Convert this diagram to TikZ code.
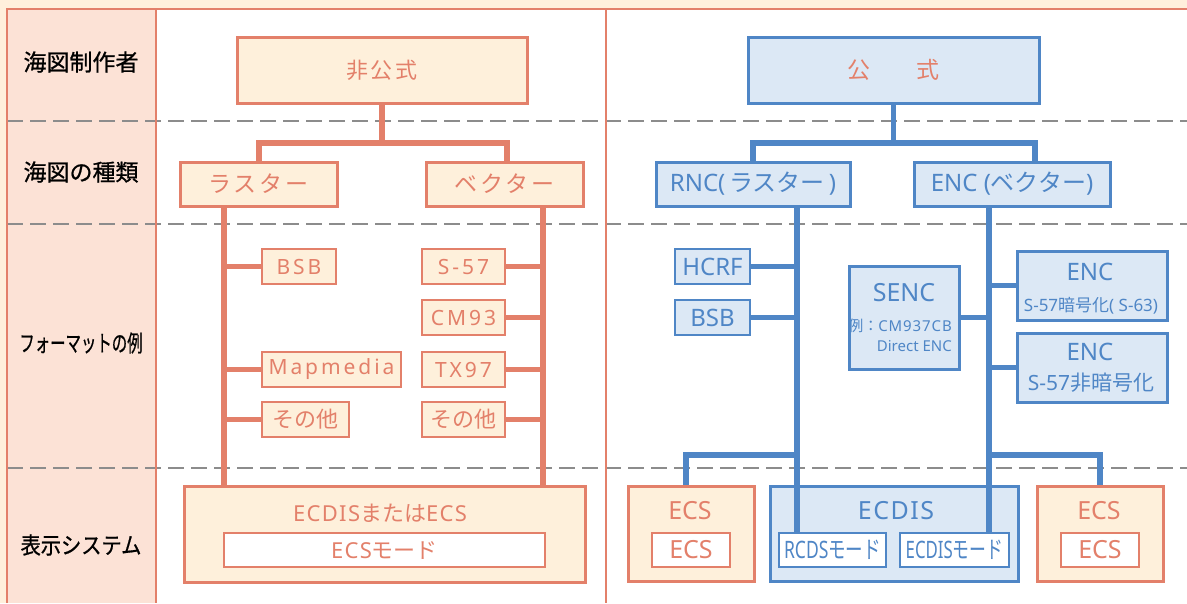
\documentclass[tikz,border=0pt]{standalone}
\usepackage{fontspec}
\setmainfont{Noto Sans CJK JP}
\newfontfamily\jpsp[LetterSpace=12]{Noto Sans CJK JP}
\newfontfamily\jplbl[FakeBold=0.8]{Noto Sans CJK JP}
\newfontfamily\lat{Noto Sans}
\newfontfamily\latsp[LetterSpace=14]{Noto Sans}
\newfontfamily\latsm[LetterSpace=6]{Noto Sans}
\newcommand\fsz[1]{\fontsize{#1}{#1}\selectfont}
\definecolor{ostroke}{HTML}{E3806A}
\definecolor{ofill}{HTML}{FEF0DB}
\definecolor{otext}{HTML}{E3806A}
\definecolor{pinkc}{HTML}{FCE2D6}
\definecolor{bstroke}{HTML}{4F86C6}
\definecolor{bfill}{HTML}{DCE8F5}
\definecolor{dgrey}{HTML}{8C8C8C}
\definecolor{cream}{HTML}{FFF0DC}
\pgfdeclarelayer{back}
\pgfdeclarelayer{outer}
\pgfdeclarelayer{conn}
\pgfsetlayers{back,outer,conn,main}
\begin{document}
\begin{tikzpicture}[x=1pt,y=-1pt,
  obox/.style={draw=ostroke, fill=ofill, line width=3pt, inner sep=0pt, text=otext},
  osmall/.style={obox, line width=2.6pt, minimum height=35pt},
  oin/.style={obox, fill=white, line width=2.6pt, minimum height=34pt},
  bbox/.style={draw=bstroke, fill=bfill, line width=3pt, inner sep=0pt, text=bstroke},
  bsmall/.style={bbox, line width=2.6pt, minimum height=35pt},
  bin/.style={bbox, fill=white, line width=2.6pt, minimum height=34pt},
  ocon/.style={draw=ostroke, line width=5.5pt},
  bcon/.style={draw=bstroke, line width=5.5pt},
  sepline/.style={draw=dgrey, line width=1.5pt, dash pattern=on 16pt off 7pt},
  frameline/.style={draw=ostroke, line width=1.6pt},
  lbl/.style={text=black, font=\jplbl\fsz{23}, inner sep=0pt},
  otx/.style={text=otext, inner sep=0pt},
  btx/.style={text=bstroke, inner sep=0pt}]

\useasboundingbox (0,0) rectangle (1187,603);

\begin{pgfonlayer}{back}
\fill[cream] (0,0) rectangle (1187,603);
\fill[white] (7,9) rectangle (1187,603);
\fill[pinkc] (7,9) rectangle (156,603);
\draw[sepline] (7,121) -- (1187,121);
\draw[sepline] (7,224) -- (1187,224);
\draw[sepline] (7,468) -- (1187,468);
\draw[frameline] (7,603) -- (7,9) -- (1187,9);
\draw[frameline] (156,9) -- (156,603);
\draw[frameline] (606,9) -- (606,603);
\end{pgfonlayer}

% row labels
\node[lbl] (l1) at (81,62) {海図制作者};
\node[lbl] (l2) at (81,172) {海図の種類};
\node[lbl] (l3) at (81,343) {\scalebox{0.67}[1]{フォーマットの例}};
\node[lbl] (l4) at (81,545) {\scalebox{0.88}[1]{表示システム}};

% outer display boxes
\begin{pgfonlayer}{outer}
\node[obox, minimum width=401pt, minimum height=96pt] (dispL) at (384.5,534) {};
\node[obox, minimum width=126pt, minimum height=95pt] (ecs1) at (691,533.5) {};
\node[bbox, minimum width=248pt, minimum height=95pt] (ecdis) at (894,533.5) {};
\node[obox, minimum width=126pt, minimum height=95pt] (ecs2) at (1100,533.5) {};
\end{pgfonlayer}

% left (unofficial)
\node[obox, minimum width=290pt, minimum height=66pt, font=\jpsp\fsz{22}] (hik) at (382,70) {非公式};
\node[obox, minimum width=157pt, minimum height=44pt, font=\jpsp\fsz{23}] (raster) at (258.5,184) {ラスター};
\node[obox, minimum width=157pt, minimum height=44pt, font=\jpsp\fsz{23}] (vector) at (504.5,184) {ベクター};
\node[osmall, minimum width=74pt, font=\latsp\fsz{21}] (bsbL) at (299,266.5) {BSB};
\node[osmall, minimum width=139pt, font=\latsp\fsz{21}] (mapm) at (331.5,369.5) {Mapmedia};
\node[osmall, minimum width=87pt, font=\fsz{22}] (sonoL) at (305.5,419.5) {その他};
\node[osmall, minimum width=83pt, font=\latsp\fsz{21}] (s57) at (463.5,266.5) {S-57};
\node[osmall, minimum width=83pt, font=\latsp\fsz{21}] (cm93) at (463.5,317.5) {CM93};
\node[osmall, minimum width=83pt, font=\latsp\fsz{21}] (tx97) at (463.5,369.5) {TX97};
\node[osmall, minimum width=83pt, font=\fsz{22}] (sonoR) at (463.5,419.5) {その他};
\node[otx, font=\fsz{22}] (dispLt) at (380,513) {{\latsm ECDIS}または{\latsm ECS}};
\node[oin, minimum width=321pt, font=\fsz{22}] (ecsmode) at (384.5,550) {{\latsm ECS}モード};

% right (official)
\node[bbox, minimum width=291pt, minimum height=66pt, text=otext, font=\fsz{23}] (kou) at (893.5,70) {公\hspace{47pt}式};
\node[bbox, minimum width=194pt, minimum height=44pt, font=\fsz{24}] (rnc) at (753,184) {{\lat RNC(\,}ラスター{\lat\,)}};
\node[bbox, minimum width=196pt, minimum height=44pt, font=\fsz{24}] (encv) at (1012,184) {{\lat ENC (}ベクター{\lat )}};
\node[bsmall, minimum width=75pt, font=\lat\fsz{24}] (hcrf) at (712.5,266.5) {HCRF};
\node[bsmall, minimum width=75pt, font=\lat\fsz{24}] (bsbR) at (712.5,317.5) {BSB};
\node[bbox, minimum width=110pt, minimum height=103pt] (senc) at (904,317.5) {};
\node[btx, font=\lat\fsz{25}] (senct) at (904,293) {SENC};
\node[btx, font=\fsz{15}, anchor=east] (sencex) at (952,326) {例：{\latsm CM937CB}};
\node[btx, font=\lat\fsz{15}, anchor=east] (sencdir) at (952,346) {Direct ENC};
\node[bbox, minimum width=150pt, minimum height=69pt] (enc1) at (1092,285.5) {};
\node[btx, font=\lat\fsz{24}] (enc1t) at (1090,272) {ENC};
\node[btx, font=\fsz{17}] (enc1s) at (1091,306) {{\lat S-57}暗号化{\lat( S-63)}};
\node[bbox, minimum width=150pt, minimum height=69pt] (enc2) at (1092,367.5) {};
\node[btx, font=\lat\fsz{24}] (enc2t) at (1090,352) {ENC};
\node[btx, font=\fsz{21}] (enc2s) at (1091,383) {{\lat S-57}非暗号化};

\node[otx, font=\lat\fsz{25}] (ecs1t) at (690,511) {ECS};
\node[oin, minimum width=78pt, font=\lat\fsz{25}] (ecs1in) at (691,550) {ECS};
\node[btx, font=\latsm\fsz{25}] (ecdist) at (896,511) {ECDIS};
\node[bin, minimum width=107pt, font=\fsz{24}] (rcds) at (832.5,550) {\scalebox{0.73}[1]{{\lat RCDS}モード}};
\node[bin, minimum width=109pt, font=\fsz{24}] (ecdismode) at (954.5,550) {\scalebox{0.7}[1]{{\lat ECDIS}モード}};
\node[otx, font=\lat\fsz{25}] (ecs2t) at (1099,511) {ECS};
\node[oin, minimum width=78pt, font=\lat\fsz{25}] (ecs2in) at (1100,550) {ECS};

% connector coordinates
\coordinate (xl) at (224,0);
\coordinate (xr) at (543,0);
\coordinate (xb1) at (797,0);
\coordinate (xb2) at (989,0);
\coordinate (dL1) at (259,0);
\coordinate (dL2) at (507,0);
\coordinate (dR2) at (1035,0);
\coordinate (xe1) at (686,0);
\coordinate (jL) at (382,143);
\coordinate (jR) at (893.5,143);
\coordinate (kL) at (797,455);
\coordinate (kR) at (989,455);

\begin{pgfonlayer}{conn}
\draw[ocon] (hik.south) -- (jL);
\draw[ocon] (raster.north -| dL1) |- (jL) -| (vector.north -| dL2);
\draw[ocon] (raster.south -| xl) -- (dispL.north -| xl);
\draw[ocon] (vector.south -| xr) -- (dispL.north -| xr);
\draw[ocon] (bsbL.west) -- (bsbL.west -| xl);
\draw[ocon] (mapm.west) -- (mapm.west -| xl);
\draw[ocon] (sonoL.west) -- (sonoL.west -| xl);
\draw[ocon] (s57.east) -- (s57.east -| xr);
\draw[ocon] (cm93.east) -- (cm93.east -| xr);
\draw[ocon] (tx97.east) -- (tx97.east -| xr);
\draw[ocon] (sonoR.east) -- (sonoR.east -| xr);

\draw[bcon] (kou.south) -- (jR);
\draw[bcon] (rnc.north) |- (jR) -| (encv.north -| dR2);
\draw[bcon] (rnc.south -| xb1) -- (rcds.north -| xb1);
\draw[bcon] (encv.south -| xb2) -- (ecdismode.north -| xb2);
\draw[bcon] (hcrf.east) -- (hcrf.east -| xb1);
\draw[bcon] (bsbR.east) -- (bsbR.east -| xb1);
\draw[bcon] (senc.east) -- (senc.east -| xb2);
\draw[bcon] (enc1.west) -- (enc1.west -| xb2);
\draw[bcon] (enc2.west) -- (enc2.west -| xb2);
\draw[bcon] (ecs1.north -| xe1) |- (kL);
\draw[bcon] (ecs2.north) |- (kR);
\end{pgfonlayer}
\end{tikzpicture}
\end{document}
